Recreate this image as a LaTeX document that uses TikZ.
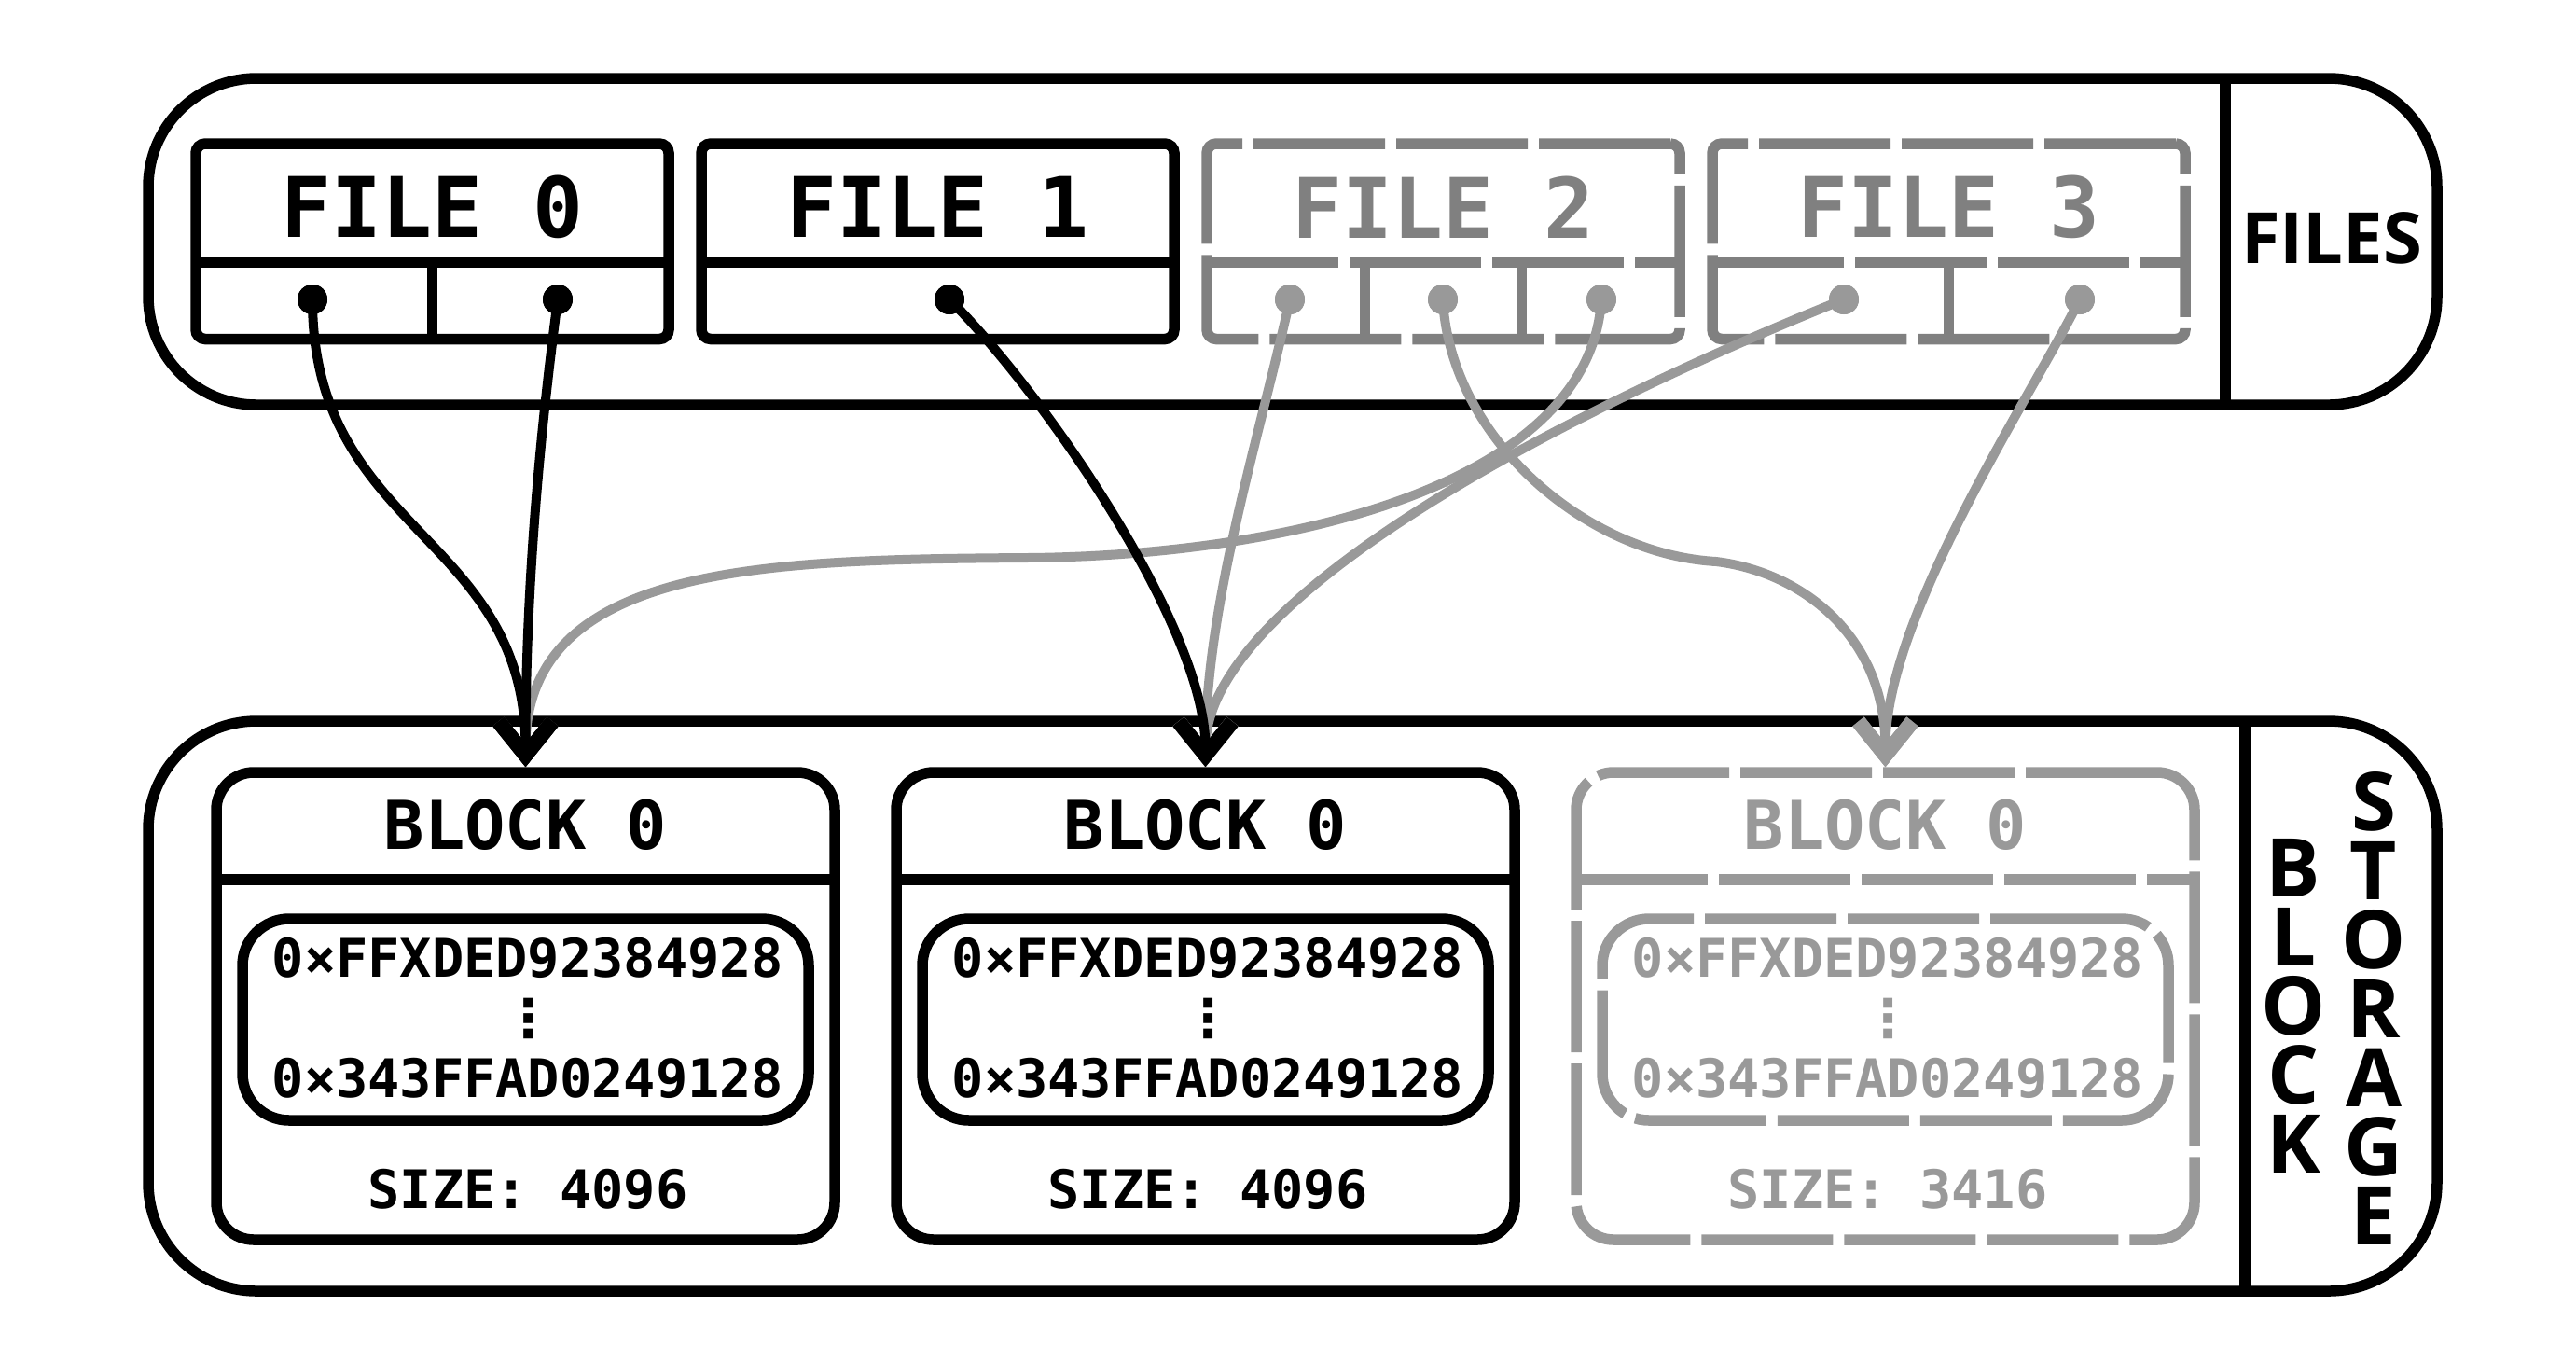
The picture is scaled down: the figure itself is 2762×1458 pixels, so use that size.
\documentclass[tikz,border=0pt]{standalone}
\usepackage{fontspec}
\setmainfont{DejaVu Sans Mono}
\newfontfamily\monof{DejaVu Sans Mono}
\newfontfamily\dotf{DejaVu Sans}
\newfontfamily\labf{Open Sans}
\usetikzlibrary{arrows.meta}
\definecolor{boxgray}{HTML}{808080}
\definecolor{linegray}{HTML}{999999}
\tikzset{
  bline/.style={line width=1.15mm},
  ghost/.style={dash pattern=on 14.1mm off 1.2mm},
  cbox/.style={draw, bline, rounded corners=11.6mm, minimum width=245.4mm, inner sep=0pt},
  fbox/.style={draw, bline, rounded corners=1mm, minimum width=50.7mm, minimum height=20.95mm, inner sep=0pt},
  bkbox/.style={draw, bline, rounded corners=4mm, minimum width=66.3mm, minimum height=50.1mm, inner sep=0pt},
  ibox/.style={draw, bline, rounded corners=5mm, minimum width=60.7mm, minimum height=21.6mm, inner sep=0pt},
  ftext/.style={inner sep=0pt, font=\monof\bfseries\fontsize{25.5}{30}\selectfont},
  btitle/.style={inner sep=0pt, font=\monof\bfseries\fontsize{20.5}{24}\selectfont},
  hex/.style={inner sep=0pt, font=\monof\bfseries\fontsize{16.2}{20}\selectfont},
  vdots/.style={inner sep=0pt, font=\dotf\bfseries\fontsize{16}{18}\selectfont},
  vlab/.style={inner sep=0pt, align=center, font=\labf\bfseries\fontsize{24.75}{21.05}\selectfont},
  dot/.style={circle, fill, inner sep=0pt, minimum size=3.2mm},
  conn/.style={line width=1mm, -{Straight Barb[length=3.6mm, width=5.8mm, line width=1.6mm]}},
}
\begin{document}
\begin{tikzpicture}[x=0.1mm, y=-0.1mm]
\useasboundingbox (0,0) rectangle (2762,1458);

% containers
\node[cbox, minimum height=35mm] (filesC) at (1386,259) {};
\node[cbox, minimum height=61.1mm] (storeC) at (1386,1078.5) {};
\draw[bline] (2386,84) -- (2386,434);
\draw[bline] (2407,773) -- (2407,1384);
\node[inner sep=0pt, font=\labf\bfseries\fontsize{21.6}{26}\selectfont] (filesL) at (2500,255) {FILES};
\node[vlab] (blockL) at (2459,1078.5) {B\\L\\O\\C\\K};
\node[vlab] (storageL) at (2545,1081) {S\\T\\O\\R\\A\\G\\E};

% file boxes
\node[fbox] (f0) at (463.5,258.75) {};
\draw[bline] (210,281) -- (717,281);
\draw[bline] (463.5,281) -- (463.5,363.5);
\node[ftext] (f0t) at (463.5,222) {FILE 0};

\node[fbox] (f1) at (1005.5,258.75) {};
\draw[bline] (752,281) -- (1259,281);
\node[ftext] (f1t) at (1005.5,222) {FILE 1};

\node[fbox, ghost, draw=boxgray] (f2) at (1547.5,258.75) {};
\draw[bline, ghost, boxgray] (1294,281) -- (1801,281);
\draw[bline, boxgray] (1463.3,281) -- (1463.3,363.5);
\draw[bline, boxgray] (1631.7,281) -- (1631.7,363.5);
\node[ftext, text=boxgray] (f2t) at (1547.5,222) {FILE 2};

\node[fbox, ghost, draw=boxgray] (f3) at (2089.5,258.75) {};
\draw[bline, ghost, boxgray] (1836,281) -- (2343,281);
\draw[bline, boxgray] (2089.5,281) -- (2089.5,363.5);
\node[ftext, text=boxgray] (f3t) at (2089.5,222) {FILE 3};

% block boxes
\node[bkbox] (b1) at (563.5,1078.5) {};
\draw[bline] (232,943) -- (895,943);
\node[ibox] (i1) at (563.5,1093) {};
\node[btitle] (b1t) at (563.5,884) {BLOCK 0};
\node[hex] (b1h) at (566,1027) {0×FFXDED92384928};
\node[vdots] (b1d) at (567,1092) {⋮};
\node[hex] (b1l) at (566,1156) {0×343FFAD0249128};
\node[hex] (b1s) at (566,1275) {SIZE: 4096};

\node[bkbox] (b2) at (1292.5,1078.5) {};
\draw[bline] (961,943) -- (1624,943);
\node[ibox] (i2) at (1292.5,1093) {};
\node[btitle] (b2t) at (1292.5,884) {BLOCK 0};
\node[hex] (b2h) at (1295,1027) {0×FFXDED92384928};
\node[vdots] (b2d) at (1296,1092) {⋮};
\node[hex] (b2l) at (1295,1156) {0×343FFAD0249128};
\node[hex] (b2s) at (1295,1275) {SIZE: 4096};

\node[bkbox, ghost, draw=linegray] (b3) at (2021.5,1078.5) {};
\draw[bline, ghost, linegray] (1690,943) -- (2353,943);
\node[ibox, ghost, draw=linegray] (i3) at (2021.5,1093) {};
\node[btitle, text=linegray] (b3t) at (2021.5,884) {BLOCK 0};
\node[hex, text=linegray] (b3h) at (2024,1027) {0×FFXDED92384928};
\node[vdots, text=linegray] (b3d) at (2025,1092) {⋮};
\node[hex, text=linegray] (b3l) at (2024,1156) {0×343FFAD0249128};
\node[hex, text=linegray] (b3s) at (2024,1275) {SIZE: 3416};

% dots
\node[dot] (f0a) at (335,321) {};
\node[dot] (f0b) at (598,321) {};
\node[dot] (f1a) at (1018,321) {};
\node[dot, linegray] (f2a) at (1383,321) {};
\node[dot, linegray] (f2b) at (1547,321) {};
\node[dot, linegray] (f2c) at (1717,321) {};
\node[dot, linegray] (f3a) at (1977,321) {};
\node[dot, linegray] (f3b) at (2230,321) {};

% gray connectors
\draw[conn, linegray] (f2a.center) .. controls (1350,470) and (1292.5,650) .. (b2.north);
\draw[conn, linegray] (f2b.center) .. controls (1555,470) and (1700,594) .. (1840,602) .. controls (1930,613) and (2021.5,680) .. (b3.north);
\draw[conn, linegray] (f2c.center) .. controls (1705,520) and (1380,596) .. (1100,598) .. controls (820,600) and (563.5,605) .. (b1.north);
\draw[conn, linegray] (f3a.center) .. controls (1680,440) and (1292.5,640) .. (b2.north);
\draw[conn, linegray] (f3b.center) .. controls (2175,430) and (2021.5,660) .. (b3.north);

% black connectors
\draw[conn] (f0a.center) .. controls (335,572) and (563.5,572) .. (b1.north);
\draw[conn] (f0b.center) .. controls (585,420) and (563.5,600) .. (b1.north);
\draw[conn] (f1a.center) .. controls (1118,420) and (1292.5,672) .. (b2.north);

% dots on top
\node[dot] at (f0a) {};
\node[dot] at (f0b) {};
\node[dot] at (f1a) {};
\node[dot, linegray] at (f2a) {};
\node[dot, linegray] at (f2b) {};
\node[dot, linegray] at (f2c) {};
\node[dot, linegray] at (f3a) {};
\node[dot, linegray] at (f3b) {};
\end{tikzpicture}
\end{document}
